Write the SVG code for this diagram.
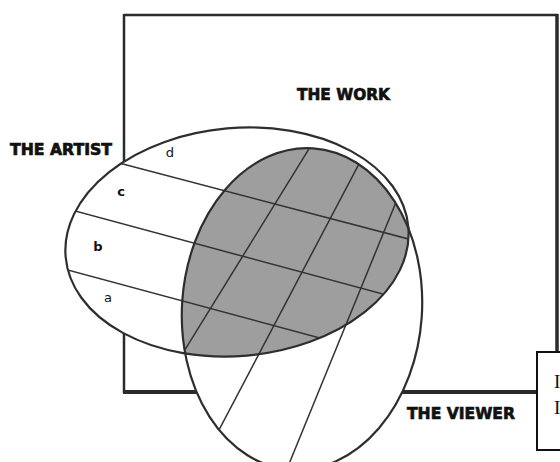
<svg xmlns="http://www.w3.org/2000/svg" width="560" height="462" viewBox="0 0 560 462">
<style>
.edge{stroke:#2b2b2b;fill:none}
.outline{fill:none;stroke:#2e2e2e;stroke-width:2.2}
.band{stroke:#333;stroke-width:1.5;fill:none}
.lbl{font-family:"DejaVu Sans","Liberation Sans",sans-serif;font-weight:bold;fill:#111;stroke:#111;stroke-width:0.7}
.let{font-family:"DejaVu Sans","Liberation Sans",sans-serif;font-size:13px;text-anchor:middle;fill:#111}
</style>
<defs>
<clipPath id="clipArtist"><ellipse cx="237" cy="242" rx="172" ry="114" transform="rotate(-5 237 242)"/></clipPath>
<clipPath id="clipViewer"><ellipse cx="302" cy="309" rx="120" ry="161" transform="rotate(4 302 309)"/></clipPath>
</defs>
<rect x="0" y="0" width="560" height="462" fill="#fff"/>
<g id="work">
<rect x="124" y="15" width="433" height="377" fill="#fff"/>
<line class="edge" x1="124" y1="15" x2="558" y2="15" stroke-width="2.5"/>
<line class="edge" x1="124" y1="14" x2="124" y2="393" stroke-width="2.5"/>
<line class="edge" x1="557" y1="14" x2="557" y2="353" stroke-width="3.5"/>
<line class="edge" x1="123" y1="392" x2="537" y2="392" stroke-width="4"/>
<text class="lbl" x="297" y="100" font-size="16" textLength="93" lengthAdjust="spacingAndGlyphs">THE WORK</text>
</g>
<g id="viewer-fill">
<ellipse cx="302" cy="309" rx="120" ry="161" transform="rotate(4 302 309)" fill="#fff"/>
</g>
<g id="artist">
<ellipse cx="237" cy="242" rx="172" ry="114" transform="rotate(-5 237 242)" fill="#fff"/>
<g clip-path="url(#clipArtist)">
<ellipse cx="302" cy="309" rx="120" ry="161" transform="rotate(4 302 309)" fill="#9e9e9e"/>
</g>
<g clip-path="url(#clipArtist)">
<line class="band" x1="100" y1="158" x2="420" y2="242"/>
<line class="band" x1="60" y1="207" x2="420" y2="304"/>
<line class="band" x1="60" y1="268" x2="420" y2="365"/>
</g>
<text class="lbl" x="10" y="155" font-size="15" textLength="102" lengthAdjust="spacingAndGlyphs">THE ARTIST</text>
<text class="let" x="170" y="157" fill="#444">d</text>
<text class="let" x="121" y="196" font-weight="bold">c</text>
<text class="let" x="98" y="251" font-weight="bold">b</text>
<text class="let" x="108" y="302" fill="#444">a</text>
</g>
<g id="viewer">
<g clip-path="url(#clipViewer)">
<line class="band" x1="320" y1="131" x2="170" y2="374"/>
<line class="band" x1="370" y1="143" x2="200" y2="466"/>
<line class="band" x1="410" y1="168" x2="280" y2="486"/>
</g>
<ellipse class="outline" cx="302" cy="309" rx="120" ry="161" transform="rotate(4 302 309)"/>
<text class="lbl" x="407" y="419" font-size="16" textLength="108" lengthAdjust="spacingAndGlyphs">THE VIEWER</text>
</g>
<g id="artist-outline">
<ellipse class="outline" cx="237" cy="242" rx="172" ry="114" transform="rotate(-5 237 242)"/>
</g>
<g id="caption">
<rect x="537" y="352" width="30" height="98" fill="#fff" stroke="#111" stroke-width="2"/>
<text x="554" y="388" font-family="'Liberation Serif',serif" font-size="19" fill="#111">I</text>
<text x="554" y="414" font-family="'Liberation Serif',serif" font-size="19" fill="#111">I</text>
</g>
</svg>
